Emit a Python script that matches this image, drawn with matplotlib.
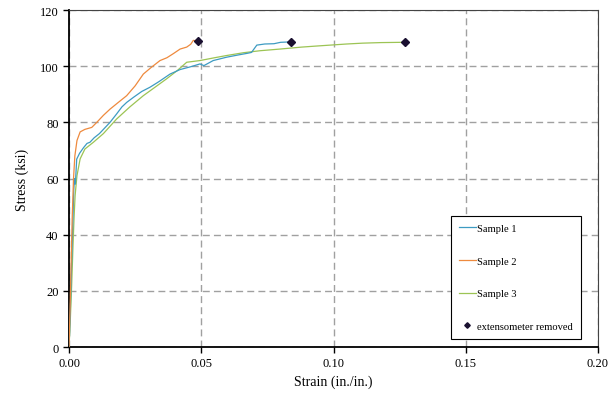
import numpy as np
import matplotlib.pyplot as plt

plt.rcParams['font.family'] = ['Liberation Serif', 'DejaVu Serif']

# Sample 1
S1_STRAIN = [0.0, 0.0004, 0.0008, 0.0013, 0.0018, 0.0021, 0.0024, 0.0029, 0.0040, 0.0055,
             0.0068, 0.0079, 0.0095, 0.0115, 0.0135, 0.0155, 0.0180, 0.0200, 0.0218,
             0.0245, 0.0275, 0.0306, 0.0340, 0.0382, 0.0420, 0.0460, 0.0495, 0.0510,
             0.0545, 0.0596, 0.0640, 0.0675, 0.0690, 0.0710, 0.0740, 0.0775, 0.0800,
             0.0825, 0.0839]
S1_STRESS = [0.0, 10.0, 24.0, 40.0, 56.0, 60.0, 58.0, 66.9, 69.0, 71.0,
             72.5, 72.9, 74.5, 76.0, 78.0, 80.0, 83.0, 85.5, 87.1,
             89.0, 91.0, 92.5, 94.5, 97.2, 98.8, 99.8, 100.8, 100.2,
             102.0, 103.2, 104.0, 104.6, 104.9, 107.5, 107.9, 108.0, 108.5,
             108.6, 108.7]

# Sample 2
S2_STRAIN = [0.0, 0.0004, 0.0008, 0.0012, 0.0017, 0.0022, 0.0030, 0.0042, 0.0060, 0.0086,
             0.0105, 0.0130, 0.0155, 0.0185, 0.0218, 0.0250, 0.0281, 0.0310, 0.0344,
             0.0370, 0.0395, 0.0420, 0.0445, 0.0460, 0.0470, 0.0483]
S2_STRESS = [0.0, 14.0, 30.0, 46.0, 60.0, 68.0, 73.5, 76.6, 77.5, 78.2,
             80.0, 82.5, 84.7, 87.0, 89.5, 93.0, 97.2, 99.5, 102.0,
             103.0, 104.5, 106.1, 106.8, 107.8, 109.2, 109.0]

# Sample 3
S3_STRAIN = [0.0, 0.0005, 0.0010, 0.0015, 0.0019, 0.0023, 0.0030, 0.0042, 0.0060, 0.0092,
             0.0130, 0.0180, 0.0230, 0.0281, 0.0325, 0.0369, 0.0410, 0.0445, 0.0495,
             0.0550, 0.0596, 0.0660, 0.0722, 0.0798, 0.0880, 0.0940, 0.0987, 0.1050,
             0.1110, 0.1180, 0.1263, 0.1270]
S3_STRESS = [0.0, 10.0, 22.0, 36.0, 46.0, 53.9, 61.0, 67.0, 70.5, 72.9,
             76.0, 81.2, 85.5, 89.5, 92.5, 95.5, 98.5, 101.4, 102.0,
             103.0, 103.8, 104.8, 105.5, 106.1, 106.8, 107.2, 107.5, 107.9,
             108.2, 108.4, 108.5, 108.6]

# extensometer removed points
EXT_STRAIN = [0.0488, 0.0839, 0.1270]
EXT_STRESS = [108.8, 108.7, 108.6]

fig = plt.figure(figsize=(6.13, 4.02), dpi=100)
ax = fig.add_axes([0.1126, 0.1343, 0.8629, 0.8383])

ax.plot(S1_STRAIN, S1_STRESS, color='#3d9bc2', lw=0.9, label='Sample 1', zorder=3)
ax.plot(S2_STRAIN, S2_STRESS, color='#ee8a3e', lw=0.9, label='Sample 2', zorder=3)
ax.plot(S3_STRAIN, S3_STRESS, color='#9cc454', lw=0.9, label='Sample 3', zorder=2)
ax.plot(EXT_STRAIN, EXT_STRESS, ls='none', marker='D', ms=4, color='#1a1030',
        label='extensometer removed', zorder=4)

ax.set_xlim(0, 0.20)
ax.set_ylim(0, 120)
ax.set_xticks([0.0, 0.05, 0.10, 0.15, 0.20])
ax.set_xticklabels(['0.00', '0.05', '0.10', '0.15', '0.20'])
ax.set_yticks(np.arange(0, 121, 20))
ax.tick_params(labelsize=9, direction='out', length=4, width=1)
ax.grid(True, ls=(0, (5, 3)), color='#a0a0a0', lw=1)
ax.set_axisbelow(True)
for s in ['left', 'bottom']:
    ax.spines[s].set_linewidth(1.3)
for s in ['top', 'right']:
    ax.spines[s].set_linewidth(0.8)
    ax.spines[s].set_color('#444444')

ax.set_xlabel('Strain (in./in.)', fontsize=10, labelpad=4)
ax.set_ylabel('Stress (ksi)', fontsize=10, labelpad=8)

leg = ax.legend(loc='lower right', bbox_to_anchor=(0.968, 0.024), borderaxespad=0,
                fontsize=7.6, frameon=True, fancybox=False, edgecolor='black',
                framealpha=1, labelspacing=2.2, handlelength=1.6, handletextpad=0.15,
                borderpad=0.75, markerscale=0.7)
leg.get_frame().set_linewidth(0.8)

fig.savefig('out.png', dpi=100)
